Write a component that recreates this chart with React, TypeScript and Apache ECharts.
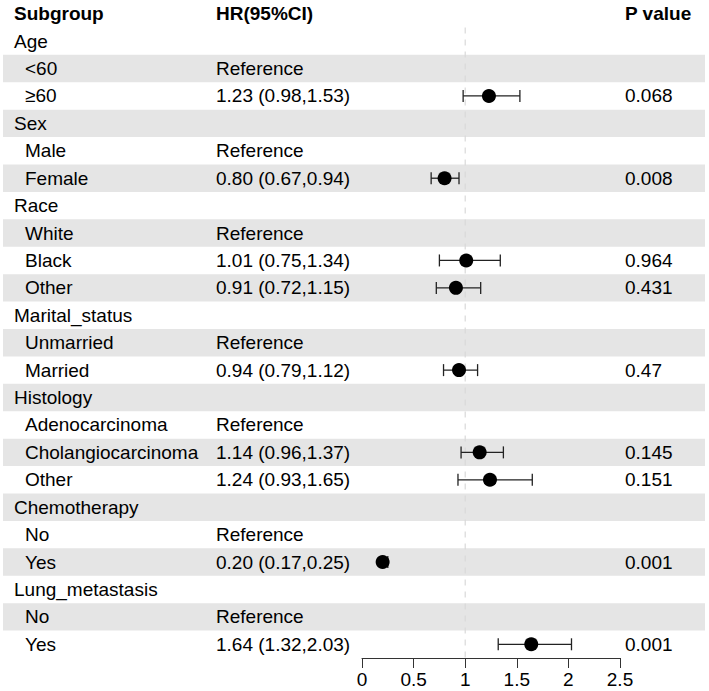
import React, { useEffect, useRef } from "react";
import * as echarts from "echarts";

// Forest plot: subgroup hazard ratios with 95% confidence intervals
const subgroups = [
  "Age", "<60", "≥60",
  "Sex", "Male", "Female",
  "Race", "White", "Black", "Other",
  "Marital_status", "Unmarried", "Married",
  "Histology", "Adenocarcinoma", "Cholangiocarcinoma", "Other",
  "Chemotherapy", "No", "Yes",
  "Lung_metastasis", "No", "Yes",
];
const isGroup = [
  true, false, false,
  true, false, false,
  true, false, false, false,
  true, false, false,
  true, false, false, false,
  true, false, false,
  true, false, false,
];
const hrText = [
  "", "Reference", "1.23 (0.98,1.53)",
  "", "Reference", "0.80 (0.67,0.94)",
  "", "Reference", "1.01 (0.75,1.34)", "0.91 (0.72,1.15)",
  "", "Reference", "0.94 (0.79,1.12)",
  "", "Reference", "1.14 (0.96,1.37)", "1.24 (0.93,1.65)",
  "", "Reference", "0.20 (0.17,0.25)",
  "", "Reference", "1.64 (1.32,2.03)",
];
const hr = [
  null, null, 1.23,
  null, null, 0.8,
  null, null, 1.01, 0.91,
  null, null, 0.94,
  null, null, 1.14, 1.24,
  null, null, 0.2,
  null, null, 1.64,
];
const ciLow = [
  null, null, 0.98,
  null, null, 0.67,
  null, null, 0.75, 0.72,
  null, null, 0.79,
  null, null, 0.96, 0.93,
  null, null, 0.17,
  null, null, 1.32,
];
const ciHigh = [
  null, null, 1.53,
  null, null, 0.94,
  null, null, 1.34, 1.15,
  null, null, 1.12,
  null, null, 1.37, 1.65,
  null, null, 0.25,
  null, null, 2.03,
];
const pValues = [
  "", "", "0.068",
  "", "", "0.008",
  "", "", "0.964", "0.431",
  "", "", "0.47",
  "", "", "0.145", "0.151",
  "", "", "0.001",
  "", "", "0.001",
];
const headers = ["Subgroup", "HR(95%CI)", "P value"];
const xTicks = { min: 0, max: 2.5, interval: 0.5 };
const refValue = 1;

const FONT = "'Liberation Sans', Arial, Helvetica, sans-serif";
const FS = 19;
const COL_GROUP = 14;
const COL_ITEM = 25;
const COL_HR = 216;
const COL_P = 625;
const TOTAL_ROWS = subgroups.length + 1; // header + body rows

export default function App() {
  const ref = useRef<HTMLDivElement>(null);

  useEffect(() => {
    document.body.style.margin = "0";
    if (!ref.current) return;
    const chart = echarts.init(ref.current, undefined, { renderer: "svg" });

    // body row r (0-based) sits at y index r + 1; header at 0
    const bandRows = subgroups
      .map((_, i) => i + 1)
      .filter((r) => r % 2 === 0);
    const ciData: number[][] = [];
    const pointData: number[][] = [];
    hr.forEach((v, i) => {
      if (v != null) {
        pointData.push([v, i + 1]);
        ciData.push([ciLow[i] as number, ciHigh[i] as number, i + 1]);
      }
    });

    const textStyle = (text: string, x: number, y: number, bold = false) => ({
      type: "text",
      x,
      y,
      style: {
        text,
        fontSize: FS,
        fontFamily: FONT,
        fontWeight: bold ? "bold" : "normal",
        fill: "#000",
        verticalAlign: "middle",
        align: "left",
      },
    });

    chart.setOption({
      animation: false,
      grid: { left: 362, right: 89, top: 0, bottom: 33 },
      xAxis: {
        type: "value",
        position: "bottom",
        min: xTicks.min,
        max: xTicks.max,
        interval: xTicks.interval,
        splitLine: { show: false },
        axisLine: { show: true, onZero: false, lineStyle: { color: "#333", width: 1 } },
        axisTick: { show: true, length: 10, lineStyle: { color: "#333" } },
        axisLabel: { fontSize: FS, fontFamily: FONT, color: "#000", margin: 12 },
      },
      yAxis: {
        type: "value",
        min: -0.5,
        max: TOTAL_ROWS - 0.5,
        inverse: true,
        show: false,
      },
      series: [
        {
          type: "custom",
          name: "bands",
          clip: false,
          z: 0,
          data: bandRows.map((r) => [0, r]),
          renderItem: (params: any, api: any) => {
            const r = api.value(1);
            const y0 = api.coord([0, r - 0.5])[1];
            const y1 = api.coord([0, r + 0.5])[1];
            return {
              type: "rect",
              shape: { x: 3, y: y0, width: 702, height: y1 - y0 },
              style: { fill: "#e5e5e5" },
            };
          },
        },
        {
          type: "custom",
          name: "reference",
          clip: false,
          z: 1,
          data: [[refValue]],
          renderItem: (params: any, api: any) => {
            const top = api.coord([api.value(0), 0.5]);
            const bot = api.coord([api.value(0), TOTAL_ROWS - 0.5]);
            return {
              type: "line",
              shape: { x1: top[0], y1: top[1], x2: bot[0], y2: bot[1] },
              style: { stroke: "#d9d9d9", lineWidth: 1.2, lineDash: [6, 6] },
            };
          },
        },
        {
          type: "custom",
          name: "text",
          clip: false,
          z: 2,
          data: [[0, 0], ...subgroups.map((_, i) => [0, i + 1])],
          renderItem: (params: any, api: any) => {
            const r = api.value(1);
            const y = api.coord([0, r])[1];
            if (r === 0) {
              return {
                type: "group",
                children: [
                  textStyle(headers[0], COL_GROUP, y, true),
                  textStyle(headers[1], COL_HR, y, true),
                  textStyle(headers[2], COL_P, y, true),
                ],
              };
            }
            const i = r - 1;
            return {
              type: "group",
              children: [
                textStyle(subgroups[i], isGroup[i] ? COL_GROUP : COL_ITEM, y),
                textStyle(hrText[i], COL_HR, y),
                textStyle(pValues[i], COL_P, y),
              ],
            };
          },
        },
        {
          type: "custom",
          name: "ci",
          clip: false,
          z: 3,
          data: ciData,
          renderItem: (params: any, api: any) => {
            const a = api.coord([api.value(0), api.value(2)]);
            const b = api.coord([api.value(1), api.value(2)]);
            const h = 6;
            const st = { stroke: "#222", lineWidth: 1.3 };
            return {
              type: "group",
              children: [
                { type: "line", shape: { x1: a[0], y1: a[1], x2: b[0], y2: b[1] }, style: st },
                { type: "line", shape: { x1: a[0], y1: a[1] - h, x2: a[0], y2: a[1] + h }, style: st },
                { type: "line", shape: { x1: b[0], y1: b[1] - h, x2: b[0], y2: b[1] + h }, style: st },
              ],
            };
          },
        },
        {
          type: "scatter",
          name: "HR",
          z: 4,
          symbol: "circle",
          symbolSize: 14,
          itemStyle: { color: "#000", opacity: 1 },
          data: pointData,
        },
      ],
    });

    return () => chart.dispose();
  }, []);

  return <div ref={ref} style={{ width: 709, height: 691 }} />;
}
